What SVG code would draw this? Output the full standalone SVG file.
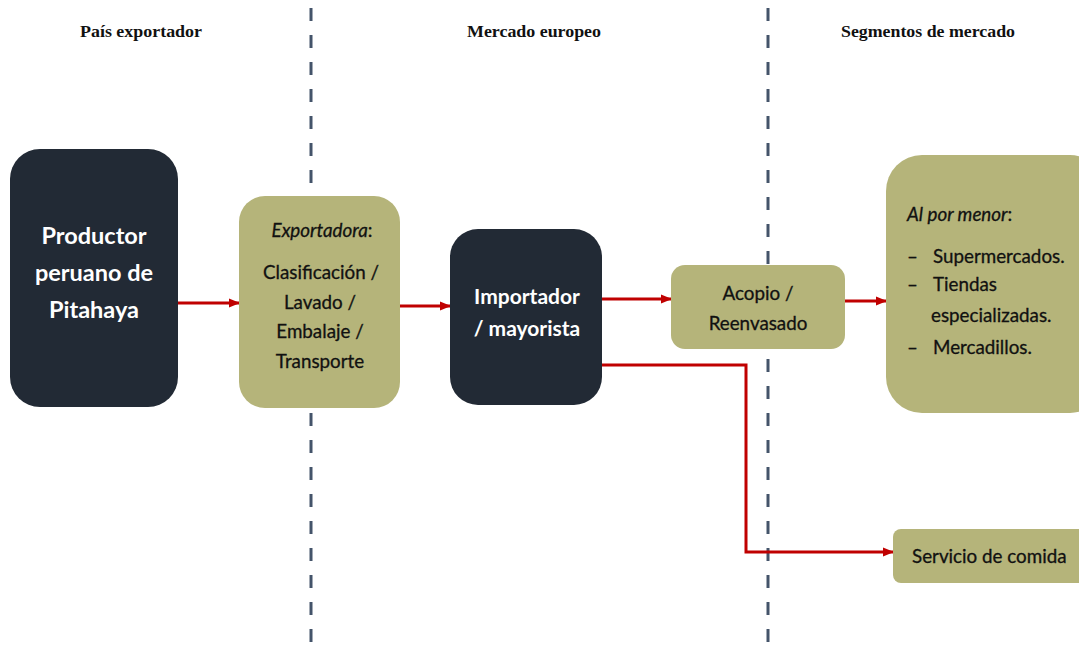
<svg xmlns="http://www.w3.org/2000/svg" width="1079" height="650" viewBox="0 0 1079 650">
<style>
.hdr{font-family:"Liberation Serif",serif;font-weight:bold;font-size:17px;fill:#111;}
.dark{fill:#222a35;}
.olive{fill:#b5b47a;}
.wt{font-family:Lato,"Noto Sans",sans-serif;font-weight:bold;fill:#fff;text-anchor:middle;}
.bt{font-family:Lato,"Noto Sans",sans-serif;fill:#111;font-size:18.8px;stroke:#111;stroke-width:0.3px;}
.mid{text-anchor:middle;}
.sep{stroke:#44546a;stroke-width:3;stroke-dasharray:13 14;fill:none;}
.con{stroke:#c00000;stroke-width:3;fill:none;}
</style>
<defs>
<marker id="ah" markerWidth="11" markerHeight="11" refX="10" refY="5.5" orient="auto" markerUnits="userSpaceOnUse">
<path d="M0,1 L11,5.5 L0,10 Z" fill="#c00000"/>
</marker>
</defs>
<rect width="1079" height="650" fill="#fff"/>
<g id="separators">
<line class="sep" x1="311" y1="8" x2="311" y2="650"/>
<line class="sep" x1="768" y1="8" x2="768" y2="650"/>
</g>
<g id="headers">
<text class="hdr" x="80" y="37" textLength="122" lengthAdjust="spacingAndGlyphs">País exportador</text>
<text class="hdr" x="467" y="37" textLength="134" lengthAdjust="spacingAndGlyphs">Mercado europeo</text>
<text class="hdr" x="841" y="37" textLength="174" lengthAdjust="spacingAndGlyphs">Segmentos de mercado</text>
</g>
<g id="connectors">
<line class="con" x1="178" y1="303" x2="239" y2="303" marker-end="url(#ah)"/>
<line class="con" x1="400" y1="306" x2="450" y2="306" marker-end="url(#ah)"/>
<line class="con" x1="602" y1="299" x2="671" y2="299" marker-end="url(#ah)"/>
<line class="con" x1="845" y1="301" x2="886" y2="301" marker-end="url(#ah)"/>
<polyline class="con" points="602,365 746,365 746,552 893,552" marker-end="url(#ah)"/>
</g>
<g id="productor">
<rect class="dark" x="10" y="149" width="168" height="258" rx="30"/>
<text class="wt" font-size="23.5"><tspan x="94" y="244">Productor</tspan><tspan x="94" y="281">peruano de</tspan><tspan x="94" y="318">Pitahaya</tspan></text>
</g>
<g id="exportadora">
<rect class="olive" x="239" y="196" width="161" height="212" rx="26"/>
<text class="bt mid"><tspan x="322" y="237"><tspan font-style="italic">Exportadora</tspan>:</tspan><tspan x="321" y="279">Clasificación /</tspan><tspan x="320" y="309">Lavado /</tspan><tspan x="320" y="338">Embalaje /</tspan><tspan x="320" y="368">Transporte</tspan></text>
</g>
<g id="importador">
<rect class="dark" x="450" y="229" width="152" height="176" rx="28"/>
<text class="wt" font-size="21"><tspan x="527" y="304">Importador</tspan><tspan x="527" y="336">/ mayorista</tspan></text>
</g>
<g id="acopio">
<rect class="olive" x="671" y="265" width="174" height="84" rx="14"/>
<text class="bt mid"><tspan x="758" y="300">Acopio /</tspan><tspan x="758" y="330">Reenvasado</tspan></text>
</g>
<g id="menor">
<rect class="olive" x="886" y="155" width="220" height="258" rx="36"/>
<text class="bt"><tspan x="907" y="221"><tspan font-style="italic">Al por menor</tspan>:</tspan></text>
<text class="bt"><tspan x="907" y="263">–</tspan><tspan x="933" y="263">Supermercados.</tspan><tspan x="907" y="291">–</tspan><tspan x="933" y="291">Tiendas</tspan><tspan x="931" y="322">especializadas.</tspan><tspan x="907" y="354">–</tspan><tspan x="933" y="354">Mercadillos.</tspan></text>
</g>
<g id="servicio">
<rect class="olive" x="893" y="529" width="200" height="54" rx="8"/>
<text class="bt" x="912" y="563">Servicio de comida</text>
</g>
</svg>
